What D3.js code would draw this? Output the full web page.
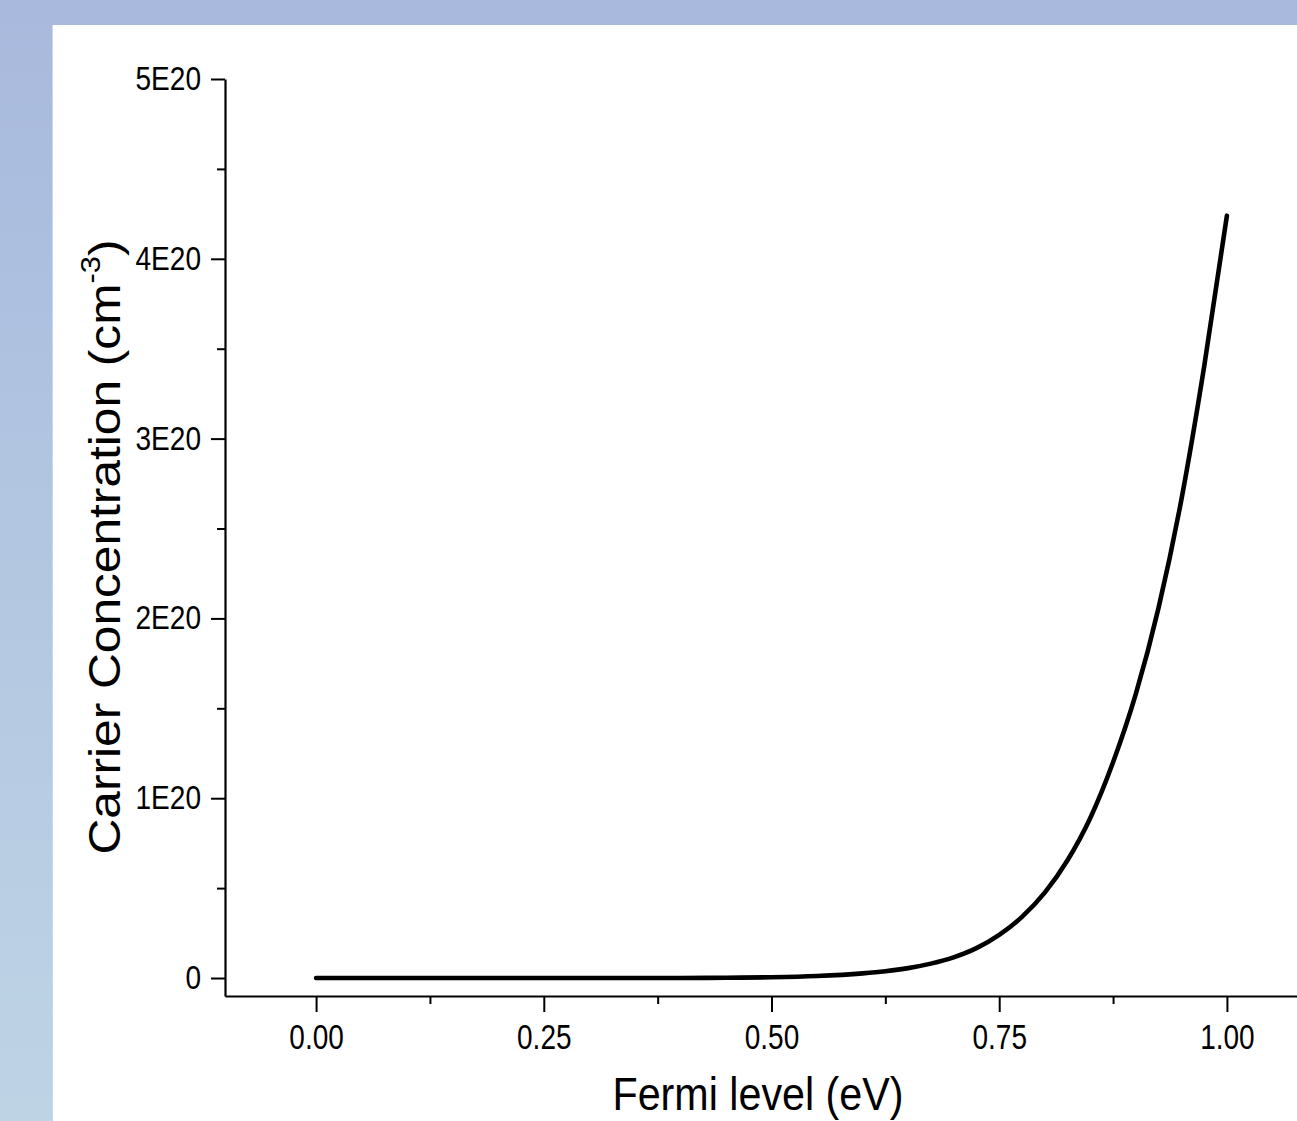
<!DOCTYPE html>
<html>
<head>
<meta charset="utf-8">
<script src="https://cdn.jsdelivr.net/npm/d3@7"></script>
<style>
  html, body { margin: 0; padding: 0; }
  body { width: 1297px; height: 1121px; overflow: hidden; }
</style>
</head>
<body>
<div id="chart"></div>
<script>
// Fermi level (eV) and carrier concentration (cm^-3)
const fermiLevel = [0, 0.1, 0.2, 0.3, 0.4, 0.45, 0.5, 0.55, 0.6, 0.625, 0.65, 0.675, 0.7,
    0.725, 0.75, 0.775, 0.8, 0.825, 0.85, 0.875, 0.9, 0.925, 0.95, 0.975, 1.0];
const concentration = [0, 0, 0, 0, 0.0004e20, 0.0014e20, 0.004e20, 0.011e20, 0.026e20,
    0.038e20, 0.055e20, 0.08e20, 0.115e20, 0.166e20, 0.24e20, 0.34e20, 0.475e20, 0.655e20,
    0.89e20, 1.20e20, 1.58e20, 2.06e20, 2.66e20, 3.40e20, 4.24e20];

const xTicks = [0, 0.25, 0.5, 0.75, 1.0];
const xMinorTicks = [0.125, 0.375, 0.625, 0.875];
const yTicks = [0, 1e20, 2e20, 3e20, 4e20, 5e20];
const yMinorTicks = [0.5e20, 1.5e20, 2.5e20, 3.5e20, 4.5e20];

const width = 1297, height = 1121;

const svg = d3.select("#chart").append("svg")
    .attr("width", width)
    .attr("height", height)
    .style("display", "block");

// slide background
const defs = svg.append("defs");
const grad = defs.append("linearGradient")
    .attr("id", "bg").attr("x1", 0).attr("y1", 0).attr("x2", 0).attr("y2", 1);
grad.append("stop").attr("offset", "0%").attr("stop-color", "#a8b9dd");
grad.append("stop").attr("offset", "100%").attr("stop-color", "#bed4e5");

svg.append("rect").attr("width", width).attr("height", height).attr("fill", "url(#bg)");
svg.append("rect").attr("x", 52).attr("y", 25).attr("width", 1).attr("height", height)
    .attr("fill", "#c9d6ee");
svg.append("rect").attr("x", 53).attr("y", 25).attr("width", width - 53).attr("height", height)
    .attr("fill", "#ffffff");

const x = d3.scaleLinear().domain([-0.1, 1.1]).range([225, 1318]);
const y = d3.scaleLinear().domain([-0.1e20, 5e20]).range([996, 79]);

const font = "'Liberation Sans', Arial, sans-serif";
const tickScaleX = 0.8;   // tick labels look horizontally condensed

// x axis
const gx = svg.append("g").attr("transform", `translate(0,${y.range()[0]})`);
gx.call(d3.axisBottom(x).tickValues(xTicks).tickFormat(d3.format(".2f"))
    .tickSize(16).tickPadding(12).tickSizeOuter(0));
gx.append("g").call(d3.axisBottom(x).tickValues(xMinorTicks).tickSize(8).tickFormat(""))
    .select(".domain").remove();
gx.selectAll(".domain").attr("stroke-width", 2.2);
gx.selectAll(".tick line").attr("stroke-width", 2);
gx.selectAll(".tick text")
    .attr("font-family", font)
    .attr("font-size", 35)
    .attr("fill", "#000")
    .attr("dy", "0.71em")
    .attr("transform", `scale(${tickScaleX},1)`);

// y axis
const gy = svg.append("g").attr("transform", `translate(${x.range()[0]},0)`);
gy.call(d3.axisLeft(y).tickValues(yTicks)
    .tickFormat(d => d === 0 ? "0" : (d / 1e20) + "E20")
    .tickSize(14).tickPadding(10).tickSizeOuter(0));
gy.append("g").call(d3.axisLeft(y).tickValues(yMinorTicks).tickSize(8).tickFormat(""))
    .select(".domain").remove();
gy.selectAll(".domain").attr("stroke-width", 2.2);
gy.selectAll(".tick line").attr("stroke-width", 2);
gy.selectAll(".tick text")
    .attr("font-family", font)
    .attr("font-size", 33)
    .attr("fill", "#000")
    .attr("x", -24 / 0.85)
    .attr("transform", "scale(0.85,1)");

// curve
const pts = fermiLevel.map((e, i) => [e, concentration[i]]);
svg.append("path")
    .datum(pts)
    .attr("fill", "none")
    .attr("stroke", "#000")
    .attr("stroke-width", 4.6)
    .attr("stroke-linecap", "round")
    .attr("stroke-linejoin", "round")
    .attr("d", d3.line().x(d => x(d[0])).y(d => y(d[1])).curve(d3.curveMonotoneX));

// axis titles
svg.append("text")
    .attr("x", 758)
    .attr("y", 1110)
    .attr("text-anchor", "middle")
    .attr("font-family", font)
    .attr("font-size", 46)
    .attr("textLength", 291)
    .attr("lengthAdjust", "spacingAndGlyphs")
    .text("Fermi level (eV)");

const yTitle = svg.append("text")
    .attr("transform", "translate(120,547) rotate(-90)")
    .attr("text-anchor", "middle")
    .attr("font-family", font)
    .attr("font-size", 45)
    .attr("textLength", 615)
    .attr("lengthAdjust", "spacingAndGlyphs");
yTitle.append("tspan").text("Carrier Concentration (cm");
yTitle.append("tspan").attr("font-size", 28).attr("dy", -20).text("-3");
yTitle.append("tspan").attr("dy", 20).text(")");
</script>
</body>
</html>
